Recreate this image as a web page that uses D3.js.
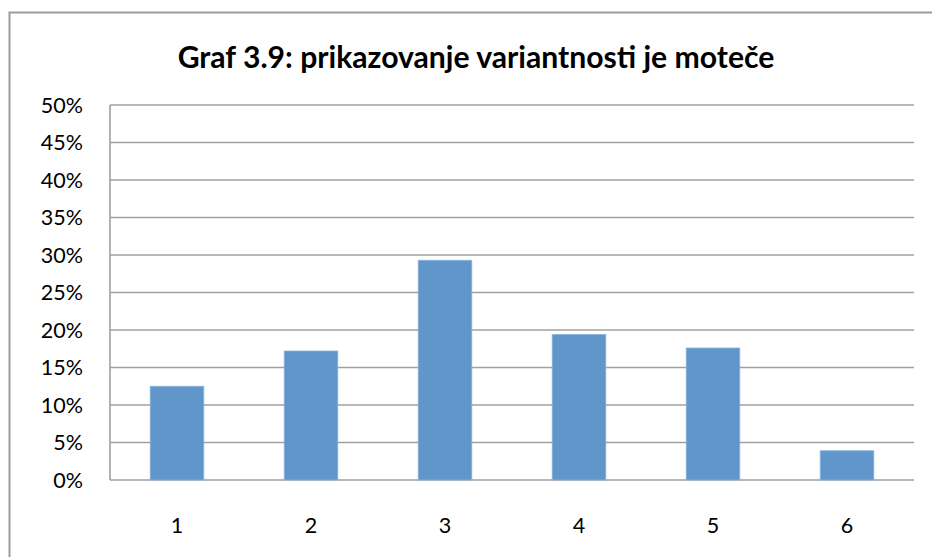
<!DOCTYPE html>
<html><head><meta charset="utf-8">
<script src="https://cdn.jsdelivr.net/npm/d3@7/dist/d3.min.js"></script>
<style>body{margin:0;background:#fff}svg{display:block}</style>
</head><body>
<script>
const categories = ["1","2","3","4","5","6"];
const values = [12.5, 17.2, 29.3, 19.4, 17.6, 3.9];
const yTicks = [0,5,10,15,20,25,30,35,40,45,50];
const title = "Graf 3.9: prikazovanje variantnosti je moteče";

const W = 932, H = 557;
const m = {left:110, top:105, right:914, bottom:480};
const svg = d3.select("body").append("svg").attr("width",W).attr("height",H);
svg.append("rect").attr("width",W).attr("height",H).attr("fill","#fff");
svg.append("rect").attr("x",9.5).attr("y",12.5).attr("width",940).attr("height",600)
  .attr("fill","none").attr("stroke","#9c9c9c").attr("stroke-width",2);

const x = d3.scaleBand().domain(categories).range([m.left,m.right]).paddingInner(0.6).paddingOuter(0.3);
const y = d3.scaleLinear().domain([0,50]).range([m.bottom,m.top]);

svg.append("g").selectAll("line").data(yTicks).join("line")
  .attr("x1",m.left).attr("x2",m.right)
  .attr("y1",d=>y(d)).attr("y2",d=>y(d))
  .attr("stroke","#a0a0a0").attr("stroke-width",1.6);
svg.append("line").attr("x1",m.left).attr("x2",m.left).attr("y1",m.top).attr("y2",m.bottom)
  .attr("stroke","#a0a0a0").attr("stroke-width",1.6);

svg.append("g").selectAll("rect").data(values).join("rect")
  .attr("x",(d,i)=>x(categories[i]))
  .attr("width",x.bandwidth())
  .attr("y",d=>y(d))
  .attr("height",d=>y(0)-y(d))
  .attr("fill","#6096ca").attr("stroke","#88b4de").attr("stroke-width",0.8);

const font = "Lato, 'Open Sans', sans-serif";
svg.append("g").selectAll("text").data(yTicks).join("text")
  .attr("x",83).attr("y",d=>y(d)).attr("dy","0.36em")
  .attr("text-anchor","end").attr("font-family",font).attr("font-size",21.5).attr("fill","#000")
  .text(d=>d+"%");
svg.append("g").selectAll("text").data(categories).join("text")
  .attr("x",d=>x(d)+x.bandwidth()/2).attr("y",525).attr("dy","0.36em")
  .attr("text-anchor","middle").attr("font-family",font).attr("font-size",21.5).attr("fill","#000")
  .text(d=>d);
const t = svg.append("text").attr("x",476).attr("y",57).attr("dy","0.36em")
  .attr("text-anchor","middle").attr("font-family",font).attr("font-weight","bold")
  .attr("font-size",26).attr("fill","#000").text(title);
const tw = t.node().getComputedTextLength();
t.attr("font-size", 26*597/tw);
</script>
</body></html>
